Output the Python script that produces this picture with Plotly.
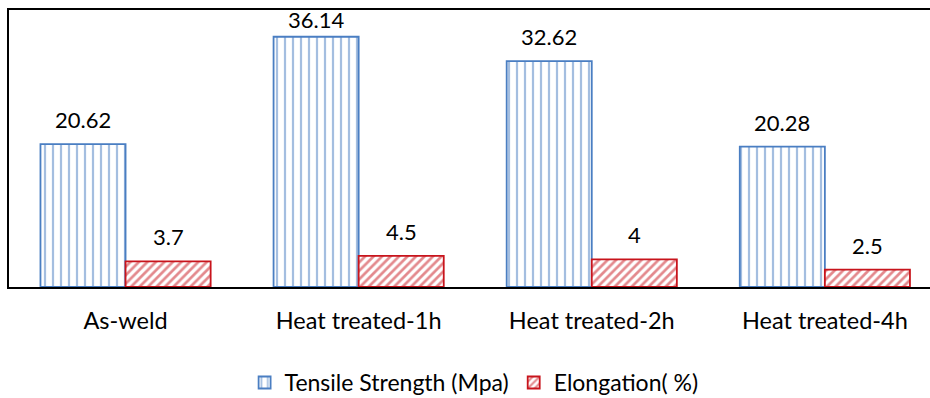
import plotly.graph_objects as go

categories = ["As-weld", "Heat treated-1h", "Heat treated-2h", "Heat treated-4h"]
tensile_strength = [20.62, 36.14, 32.62, 20.28]
elongation = [3.7, 4.5, 4, 2.5]
tensile_labels = ["20.62", "36.14", "32.62", "20.28"]
elongation_labels = ["3.7", "4.5", "4", "2.5"]

FONT = "Lato, Carlito, Calibri, sans-serif"
BLUE = "#4A7EC2"
RED = "#C8141C"
HALF = 0.1825  # half of a bar's width in category units
Y_MAX = 40
PX_PER_UNIT = 277 / Y_MAX


def add_value_label(fig, x, v, text):
    # labels that would run past the top of the frame are tucked just under it
    label_px = 26 + 9
    if v * PX_PER_UNIT + label_px > Y_MAX * PX_PER_UNIT:
        fig.add_annotation(x=x, y=Y_MAX, text=text, showarrow=False,
                           yanchor="top", yshift=6,
                           font=dict(size=22, color="black", family=FONT))
    else:
        fig.add_annotation(x=x, y=v, text=text, showarrow=False,
                           yanchor="bottom", yshift=9,
                           font=dict(size=22, color="black", family=FONT))


fig = go.Figure()
fig.add_trace(go.Bar(
    name="Tensile Strength (Mpa)",
    x=categories, y=tensile_strength,
    offsetgroup="a",
    marker=dict(color="white", line=dict(color=BLUE, width=1.8),
                pattern=dict(shape="|", fgcolor=BLUE, bgcolor="white",
                             size=8, solidity=0.28)),
))
fig.add_trace(go.Bar(
    name="Elongation( %)",
    x=categories, y=elongation,
    offsetgroup="b",
    marker=dict(color="white", line=dict(color=RED, width=1.8),
                pattern=dict(shape="/", fgcolor=RED, bgcolor="white",
                             size=6, solidity=0.45)),
))

for i, (v, lab) in enumerate(zip(tensile_strength, tensile_labels)):
    add_value_label(fig, i - HALF, v, lab)
for i, (v, lab) in enumerate(zip(elongation, elongation_labels)):
    add_value_label(fig, i + HALF, v, lab)

fig.update_layout(
    width=930, height=398,
    margin=dict(l=9, r=0, t=10, b=111, autoexpand=False),
    paper_bgcolor="white", plot_bgcolor="white",
    barmode="group", bargap=0.27, bargroupgap=0,
    font=dict(family=FONT, size=23, color="black"),
    legend=dict(orientation="h", x=0.505, xanchor="center",
                y=-0.345, yanchor="middle",
                font=dict(size=23, family=FONT),
                itemwidth=30, traceorder="normal"),
    xaxis=dict(range=[-0.5, 3.451], showline=True, linecolor="black",
               linewidth=2, mirror=True, ticks="", showgrid=False,
               automargin=False, ticklabelstandoff=12,
               tickfont=dict(size=23.5, family=FONT)),
    yaxis=dict(range=[0, Y_MAX], showline=True, linecolor="black",
               linewidth=2, showgrid=False, showticklabels=False,
               ticks="", zeroline=False, automargin=False),
)

fig.write_html("out.html")
